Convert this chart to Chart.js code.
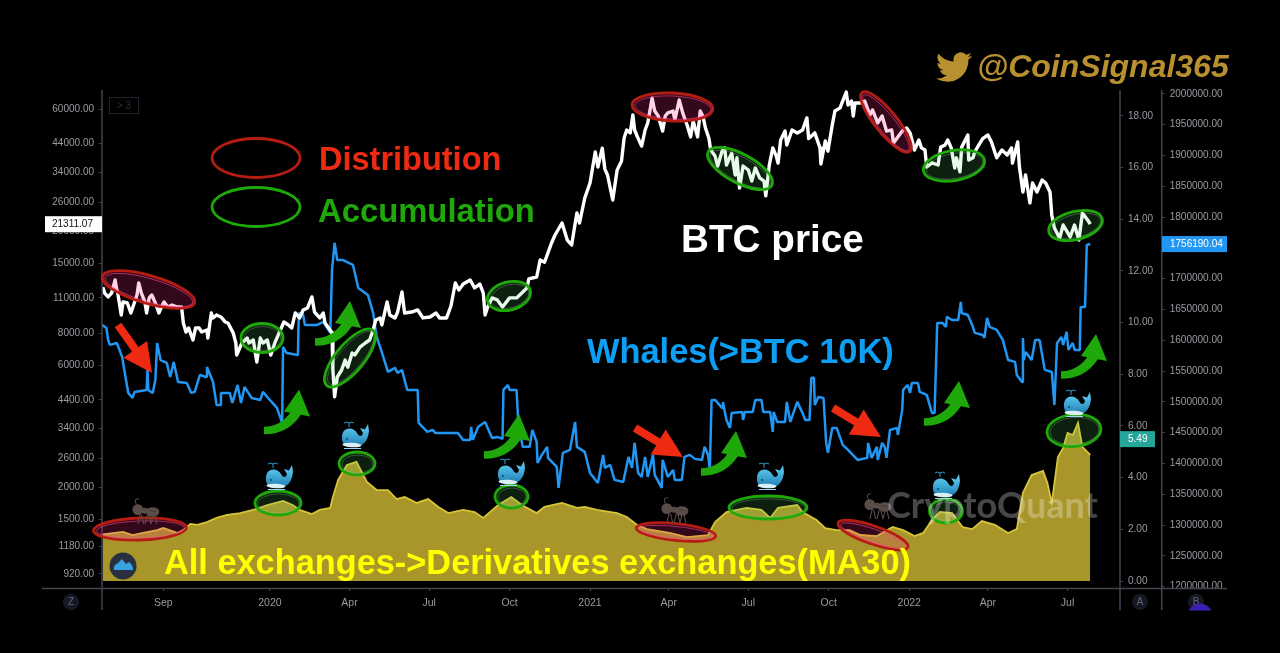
<!DOCTYPE html>
<html>
<head>
<meta charset="utf-8">
<style>
  html, body { margin: 0; padding: 0; background: #000; overflow: hidden; }
  canvas { display: block; }
</style>
<script src="https://cdn.jsdelivr.net/npm/chart.js@4/dist/chart.umd.min.js"></script>
</head>
<body>
<canvas id="whaleChart" width="1280" height="653"></canvas>
<script>
// x values are days counted from 2020-01-01
const tickDays = [-122, 0, 91, 182, 274, 366, 456, 547, 639, 731, 821, 912];
const tickLabels = ['Sep', '2020', 'Apr', 'Jul', 'Oct', '2021', 'Apr', 'Jul', 'Oct', '2022', 'Apr', 'Jul'];

const priceTicks = [920, 1180, 1500, 2000, 2600, 3400, 4400, 6000, 8000, 11000, 15000, 20000, 26000, 34000, 44000, 60000];

const btcDays = [-191,-189,-185,-181,-177,-175,-174,-170,-168,-163,-159,-157,-152,-150,-147,-143,-141,-138,-135,-131,-127,-123,-121,-117,-112,-106,-101,-99,-96,-93,-88,-85,-81,-78,-72,-71,-67,-65,-61,-56,-51,-48,-42,-39,-38,-32,-26,-24,-19,-15,-11,-8,-3,1,6,11,16,21,25,29,34,38,43,48,51,57,61,63,71,72,74,77,82,86,89,94,97,103,109,114,118,121,126,128,134,137,143,146,151,154,162,169,175,183,190,194,202,207,212,216,221,229,234,240,244,246,249,254,260,266,274,282,288,294,296,305,309,314,322,326,334,340,345,351,354,360,366,372,375,380,383,386,392,397,402,405,408,412,415,417,420,425,429,432,437,440,444,449,452,455,461,463,468,472,477,481,484,489,492,495,498,502,504,509,512,517,520,522,528,532,534,537,541,547,551,555,560,565,567,571,575,579,581,584,589,591,597,603,609,614,616,623,629,630,635,638,643,646,652,654,659,661,665,667,669,675,680,686,689,695,700,705,711,713,723,728,732,737,742,745,749,751,757,764,767,772,775,779,783,785,789,791,798,799,804,806,815,821,825,831,837,843,848,849,855,857,861,864,869,872,877,883,887,892,894,897,903,907,915,920,925,929,935,938];
const btcPrice = [12110,11480,11090,11480,12910,11800,11480,9430,10600,10500,9600,10040,11280,12570,11480,10600,9600,10990,11280,10500,9600,10310,10600,10130,10310,10130,10130,8770,8090,8390,7530,8390,8390,8090,8240,7670,9600,9180,9430,9260,8850,8770,8030,7330,6580,7330,7670,7330,7530,6180,7670,7330,7530,6580,7390,8090,8850,8620,8390,9600,9180,9860,10040,11090,9680,9180,9600,8770,8030,5750,4520,5400,5750,6290,5900,6700,6580,7060,7330,7530,8240,9010,9180,8620,10600,9430,9180,9680,11590,9600,9680,9860,9180,9260,9600,9180,9180,10220,12570,11800,12450,12910,12030,12450,11480,9430,10130,10990,10790,10130,10990,10990,11480,12030,13030,13260,15450,15140,18000,19340,21540,18490,17680,23570,21540,26970,30860,40780,35620,42210,34970,33160,26490,34680,37560,46200,49680,48400,56860,49680,46900,43000,49680,52900,66100,58900,56350,49200,56350,57950,58900,54350,65050,57950,51960,46700,53800,46700,58900,56350,50600,46000,41510,39300,35950,41100,42300,36280,40300,33160,38700,29500,35950,34680,31400,35300,32300,31400,27500,36280,42300,39300,36900,45410,49200,43410,49680,48400,49680,55400,46000,48400,42300,36600,45000,41100,51960,58900,60600,63300,69900,62200,64500,56350,63300,63300,64500,56860,59460,53000,56350,49200,49680,44200,49200,50600,48400,41510,45410,42300,41510,35620,37000,36280,42600,43410,45410,42300,35300,38700,34100,42600,47500,37940,38700,40900,46000,47500,44600,38700,41510,39690,42300,36900,44600,35620,28450,33160,25800,30860,28450,31700,30860,28450,23150,20600,18800,21160,19000,21160,18490,23570,22130,21311];

const whaleDays = [-192,-187,-185,-183,-175,-169,-162,-157,-155,-141,-140,-139,-134,-131,-129,-125,-118,-114,-110,-105,-95,-90,-86,-80,-73,-72,-65,-61,-57,-56,-46,-43,-37,-33,-29,-21,-11,-8,-2,8,14,15,19,32,33,38,40,54,61,69,71,74,77,83,95,101,112,118,122,126,135,143,146,151,157,169,170,180,186,189,215,221,229,230,232,238,246,254,260,266,267,272,274,282,284,289,297,300,305,306,311,317,318,328,330,335,343,349,351,360,366,375,381,383,389,394,404,410,414,417,421,425,429,432,438,440,448,449,455,461,463,471,474,480,486,494,497,501,503,505,509,517,518,522,526,528,540,541,543,552,555,562,564,572,575,576,580,589,591,595,603,609,612,617,619,622,623,627,633,636,638,643,648,655,661,672,683,684,688,694,695,700,703,705,709,717,718,723,724,729,732,734,741,743,751,752,757,760,763,769,773,774,780,787,790,791,798,803,806,815,817,820,823,831,838,844,852,854,860,861,862,864,871,875,880,886,894,897,900,905,907,911,913,918,920,926,927,932,934,938];
const whaleHoldings = [1625000,1620000,1600500,1592500,1595700,1573000,1514600,1506400,1516000,1519400,1552000,1519400,1514500,1535700,1595700,1568000,1563300,1540500,1564900,1532400,1530800,1514600,1516200,1543800,1540500,1556800,1532400,1495100,1495100,1514600,1514600,1498300,1527500,1498300,1524300,1506400,1503200,1516200,1506400,1490200,1465900,1589200,1579500,1576200,1644400,1641100,1624900,1624900,1629800,1612000,1714200,1758000,1730400,1730400,1722300,1685000,1673600,1644400,1605400,1589200,1548600,1555100,1547000,1551900,1519400,1519400,1465900,1451300,1454500,1449600,1449600,1438300,1438300,1459400,1438300,1459400,1467500,1441500,1443100,1439900,1519400,1527500,1519400,1519400,1465900,1427000,1427000,1454500,1435000,1400900,1414000,1427000,1409100,1394500,1360400,1417200,1422000,1467500,1427000,1418800,1384700,1368500,1414000,1392800,1397700,1373400,1370100,1410700,1392800,1433400,1384700,1378200,1410700,1378200,1414000,1381500,1360400,1405800,1378200,1389600,1373400,1373400,1410700,1414000,1407500,1405800,1427000,1414000,1389600,1503200,1503200,1490200,1500000,1470700,1457800,1482100,1483700,1470700,1483700,1483700,1503200,1503200,1483700,1483700,1451300,1483700,1467500,1467500,1500000,1467500,1500000,1482100,1470700,1470700,1539000,1539000,1495100,1508100,1506400,1433400,1417200,1457800,1457800,1430200,1422000,1405800,1409100,1433400,1409100,1427000,1405800,1433400,1427000,1409100,1454500,1457800,1446400,1487000,1519400,1527500,1514600,1530800,1530800,1516200,1511300,1506400,1482100,1482100,1628200,1628200,1621700,1637900,1633000,1633000,1662300,1644400,1641100,1624900,1612000,1608700,1603800,1636300,1621700,1616800,1600600,1568000,1564900,1543800,1532400,1603800,1568000,1581100,1568000,1600600,1600600,1552000,1548600,1495100,1595700,1605400,1592500,1613600,1584400,1595700,1584400,1584400,1654100,1654100,1754800,1756190];

const flowDays = [-191,-177,-168,-157,-145,-129,-122,-106,-99,-91,-83,-72,-61,-49,-34,-15,-3,15,26,34,48,57,69,72,78,88,99,105,111,122,135,145,154,168,181,194,204,221,234,244,261,276,288,305,314,334,351,360,374,397,408,420,431,457,477,501,509,522,545,562,572,581,603,609,625,635,648,663,675,694,712,724,737,747,757,766,780,792,803,814,829,844,854,861,871,884,889,894,901,907,912,918,924,929,938];
const flowMA30 = [1.80,1.86,1.90,1.78,1.86,1.97,2.05,1.86,1.97,2.21,2.17,2.28,2.44,2.56,2.63,2.79,2.94,3.10,2.94,2.75,2.59,2.75,2.83,3.25,3.91,4.49,4.61,4.22,3.83,3.52,3.52,3.17,3.25,3.02,3.17,2.83,2.63,2.75,2.67,2.44,2.94,3.25,2.94,2.63,2.87,3.02,2.83,2.87,2.75,2.63,2.48,2.17,2.01,1.86,1.70,1.78,2.28,2.67,2.83,2.75,2.44,2.83,2.94,2.67,2.36,2.05,1.97,1.97,1.78,1.74,2.09,1.97,1.74,1.86,2.36,2.67,2.63,2.09,2.01,2.32,2.17,1.86,2.01,3.41,4.10,4.26,3.79,3.02,4.80,5.15,5.73,5.65,6.12,5.19,4.88];

// last-value tags on the three axes
const lastPrice = 21311.07;
const lastWhales = 1756190.04;
const lastFlow = 5.49;

const sans = '"Liberation Sans", Arial, sans-serif';
const axisGrey = '#43444e';
const tickGrey = '#9a9ba2';
const redInk = '#ee2b12';
const greenInk = '#1fa80a';

// annotations drawn over the chart: [cx, cy, rx, ry, angle in degrees]
const redRings = [[148.5,289.5,48,14,16],[672.5,107,40.5,14,3],[886,122,38,11,51],[140,529,46.5,11,-2],[676,532,40,8.5,6],[873,535,37,9,19]];
const greenRings = [[262,338,21,14.5,0],[350,358,36,14,-50],[509,296,22,14,-15],[740,168.5,36,14.5,28],[954,165.5,31,15,-10],[1075.5,225.5,27.5,14,-14],[278,503,23,12,0],[357,463.5,18,11.5,0],[511.5,496.5,16.5,11.5,0],[768,507.5,39,11.5,0],[946,511,16.5,12,0],[1074,430.5,27,16,-5]];
const redArrows = [[118,325,152,373],[635,428,683,457],[833,408,881,437]];
const greenArrows = [[264,430.5],[315,342],[484,455],[701,472],[924,422],[1061,375]];
const whaleSpots = [[279,476],[355,435],[511,472],[770,476],[946,485],[1077,403]];
const antSpots = [[145,512],[674,511],[877,507]];

function ring(ctx, r, stroke, tint, inner) {
  const [cx, cy, rx, ry, ang] = r;
  ctx.save();
  ctx.translate(cx, cy);
  ctx.rotate(ang * Math.PI / 180);
  ctx.beginPath();
  ctx.ellipse(0, 0, rx, ry, 0, 0, Math.PI * 2);
  ctx.fillStyle = tint;
  ctx.fill();
  ctx.lineWidth = 2.8;
  ctx.strokeStyle = stroke;
  ctx.stroke();
  ctx.beginPath();
  ctx.ellipse(0.5, 0.5, rx - 2.5, ry - 2.5, 0, 0, Math.PI * 2);
  ctx.lineWidth = 0.7;
  ctx.strokeStyle = inner;
  ctx.stroke();
  ctx.restore();
}

function straightArrow(ctx, a) {
  const [x0, y0, x1, y1] = a;
  const ang = Math.atan2(y1 - y0, x1 - x0);
  const len = Math.hypot(x1 - x0, y1 - y0);
  ctx.save();
  ctx.translate(x0, y0);
  ctx.rotate(ang);
  ctx.fillStyle = redInk;
  ctx.fillRect(0, -4, len - 22, 8);
  ctx.beginPath();
  ctx.moveTo(len, 0);
  ctx.lineTo(len - 29, -14.5);
  ctx.lineTo(len - 29, 14.5);
  ctx.closePath();
  ctx.fill();
  ctx.restore();
}

function curvedArrow(ctx, a) {
  ctx.save();
  ctx.translate(a[0], a[1]);
  ctx.fillStyle = greenInk;
  ctx.beginPath();
  ctx.moveTo(0, 3.7);
  ctx.quadraticCurveTo(24, 4, 37, -16);
  ctx.lineTo(27, -19);
  ctx.quadraticCurveTo(17, -4, 0, -3.7);
  ctx.closePath();
  ctx.fill();
  ctx.beginPath();
  ctx.moveTo(35, -41);
  ctx.lineTo(20, -19);
  ctx.lineTo(46, -14);
  ctx.closePath();
  ctx.fill();
  ctx.restore();
}

function whale(ctx, p) {
  ctx.save();
  ctx.translate(p[0], p[1]);
  const g = ctx.createLinearGradient(0, -7, 0, 13);
  g.addColorStop(0, '#57c6ec');
  g.addColorStop(1, '#1a76ad');
  ctx.fillStyle = g;
  ctx.beginPath();
  ctx.moveTo(-13, 2);
  ctx.bezierCurveTo(-13, -8, -2, -9, 2, -2);
  ctx.bezierCurveTo(4, 2, 7, 2, 8, -2);
  ctx.lineTo(5, -7);
  ctx.lineTo(10, -5.5);
  ctx.lineTo(13, -11);
  ctx.lineTo(14, -4);
  ctx.bezierCurveTo(13, 6, 8, 12, -1, 12);
  ctx.bezierCurveTo(-9, 12, -13.5, 9, -13, 2);
  ctx.fill();
  ctx.fillStyle = '#d9eef5';
  ctx.beginPath();
  ctx.ellipse(-3, 10, 9.5, 2.2, 0.05, 0, Math.PI * 2);
  ctx.fill();
  ctx.fillStyle = '#0c3d5c';
  ctx.beginPath();
  ctx.arc(-8, 4, 0.9, 0, Math.PI * 2);
  ctx.fill();
  ctx.strokeStyle = '#9fd8ee';
  ctx.lineWidth = 1;
  ctx.beginPath();
  ctx.moveTo(-11, 13.5);
  ctx.lineTo(6, 13.5);
  ctx.stroke();
  ctx.strokeStyle = '#2a9fd0';
  ctx.beginPath();
  ctx.moveTo(-6, -8);
  ctx.lineTo(-6, -12);
  ctx.moveTo(-6, -12);
  ctx.quadraticCurveTo(-9, -14, -11, -12);
  ctx.moveTo(-6, -12);
  ctx.quadraticCurveTo(-3, -14, -1, -12);
  ctx.stroke();
  ctx.restore();
}

function ant(ctx, p) {
  ctx.save();
  ctx.translate(p[0], p[1]);
  ctx.scale(1.2, 1.2);
  ctx.fillStyle = '#5a4d48';
  ctx.strokeStyle = '#5a4d48';
  ctx.lineWidth = 0.9;
  ctx.beginPath();
  ctx.ellipse(-6, -2, 4.5, 4.5, 0, 0, Math.PI * 2);
  ctx.ellipse(0, -1, 3, 2.5, 0, 0, Math.PI * 2);
  ctx.ellipse(6.5, 0, 5.5, 4, 0, 0, Math.PI * 2);
  ctx.fill();
  ctx.beginPath();
  ctx.moveTo(-7, -6);
  ctx.quadraticCurveTo(-10, -11, -5, -11);
  for (const lx of [-6, 0, 5]) {
    ctx.moveTo(lx + 2, 2);
    ctx.lineTo(lx, 10);
    ctx.moveTo(lx + 3, 2);
    ctx.lineTo(lx + 5, 10);
  }
  ctx.stroke();
  ctx.restore();
}

function badge(ctx, x, y, letter) {
  ctx.fillStyle = '#161923';
  ctx.beginPath();
  ctx.arc(x, y, 8, 0, Math.PI * 2);
  ctx.fill();
  ctx.fillStyle = '#5d6580';
  ctx.font = '10px ' + sans;
  ctx.textAlign = 'center';
  ctx.textBaseline = 'middle';
  ctx.fillText(letter, x, y + 0.5);
}

function priceTag(ctx, x, y, w, fill, color, label, tx) {
  ctx.fillStyle = fill;
  ctx.fillRect(x, y - 8, w, 16);
  ctx.fillStyle = color;
  ctx.font = '10px ' + sans;
  ctx.textAlign = 'left';
  ctx.textBaseline = 'middle';
  ctx.fillText(label, tx, y + 0.5);
}

const twitterBird = new Path2D('M23.953 4.57a10 10 0 01-2.825.775 4.958 4.958 0 002.163-2.723c-.951.555-2.005.959-3.127 1.184a4.92 4.92 0 00-8.384 4.482C7.69 8.095 4.067 6.13 1.64 3.162a4.822 4.822 0 00-.666 2.475c0 1.71.87 3.213 2.188 4.096a4.904 4.904 0 01-2.228-.616v.06a4.923 4.923 0 003.946 4.827 4.996 4.996 0 01-2.212.085 4.936 4.936 0 004.604 3.417 9.867 9.867 0 01-6.102 2.105c-.39 0-.779-.023-1.17-.067a13.995 13.995 0 007.557 2.209c9.053 0 13.998-7.496 13.998-13.985 0-.21 0-.42-.015-.63A9.935 9.935 0 0024 4.59z');

const annotations = {
  id: 'annotations',
  afterDraw(chart) {
    const ctx = chart.ctx;
    const sc = chart.scales;
    ctx.save();

    // hide the half of the lowest whale label that sits under the time axis
    ctx.fillStyle = '#000';
    ctx.fillRect(1164, 590, 66, 10);

    // axis rules run past the plot area
    ctx.strokeStyle = axisGrey;
    ctx.lineWidth = 1.5;
    ctx.beginPath();
    ctx.moveTo(42, 588.5); ctx.lineTo(1227, 588.5);
    for (const x of [102, 1120, 1161.7]) {
      ctx.moveTo(x, 90); ctx.lineTo(x, 610);
    }
    ctx.stroke();

    // ring tints lie over the lines
    redRings.forEach(r => ring(ctx, r, '#b51d12', 'rgba(255,40,130,0.2)', 'rgba(255,70,150,0.8)'));
    greenRings.forEach(r => ring(ctx, r, '#1fa80a', 'rgba(90,220,100,0.14)', 'rgba(120,200,120,0.5)'));
    ring(ctx, [256, 158, 44, 19.5, 0], '#b51d12', 'rgba(0,0,0,0)', 'rgba(0,0,0,0)');
    ring(ctx, [256, 207, 44, 19.5, 0], '#1fa80a', 'rgba(0,0,0,0)', 'rgba(0,0,0,0)');

    redArrows.forEach(a => straightArrow(ctx, a));
    greenArrows.forEach(a => curvedArrow(ctx, a));
    antSpots.forEach(p => ant(ctx, p));
    whaleSpots.forEach(p => whale(ctx, p));

    // captions
    ctx.textAlign = 'left';
    ctx.textBaseline = 'alphabetic';
    ctx.font = 'bold 32.5px ' + sans;
    ctx.fillStyle = redInk;
    ctx.fillText('Distribution', 319, 170);
    ctx.font = 'bold 32.8px ' + sans;
    ctx.fillStyle = greenInk;
    ctx.fillText('Accumulation', 318, 222);
    ctx.font = 'bold 38.7px ' + sans;
    ctx.fillStyle = '#fff';
    ctx.fillText('BTC price', 681, 252);
    ctx.font = 'bold 34.4px ' + sans;
    ctx.fillStyle = '#0d9ef5';
    ctx.fillText('Whales(>BTC 10K)', 587, 363);
    ctx.font = 'bold 34.35px ' + sans;
    ctx.fillStyle = '#ffff00';
    ctx.fillText('All exchanges->Derivatives exchanges(MA30)', 164, 574);
    ctx.font = 'italic bold 32px ' + sans;
    ctx.fillStyle = '#b8902f';
    ctx.fillText('@CoinSignal365', 977, 77);

    ctx.save();
    ctx.translate(936, 49);
    ctx.scale(1.5, 1.5);
    ctx.fill(twitterBird);
    ctx.restore();

    // watermark and platform furniture
    ctx.font = 'bold 36px Lato, ' + sans;
    ctx.fillStyle = 'rgba(255,255,255,0.28)';
    ctx.fillText('CryptoQuant', 887, 518);

    ctx.fillStyle = '#2a3040';
    ctx.beginPath();
    ctx.arc(123, 566, 13.5, 0, Math.PI * 2);
    ctx.fill();
    ctx.fillStyle = '#36a3e0';
    ctx.beginPath();
    ctx.moveTo(114, 570);
    ctx.quadraticCurveTo(113, 565, 118, 563);
    ctx.lineTo(122, 559);
    ctx.lineTo(126, 564);
    ctx.lineTo(129, 562);
    ctx.quadraticCurveTo(133, 565, 133, 570);
    ctx.closePath();
    ctx.fill();

    ctx.strokeStyle = '#20232d';
    ctx.lineWidth = 1;
    ctx.strokeRect(109.5, 97.5, 29, 16);
    ctx.fillStyle = '#2c2f39';
    ctx.font = '10px ' + sans;
    ctx.textAlign = 'center';
    ctx.textBaseline = 'middle';
    ctx.fillText('> 3', 124, 106);

    badge(ctx, 71, 602, 'Z');
    badge(ctx, 1140, 602, 'A');
    badge(ctx, 1196, 602, 'B');
    ctx.save();
    ctx.beginPath();
    ctx.rect(1180, 600, 40, 10.5);
    ctx.clip();
    ctx.fillStyle = '#3a1fb0';
    ctx.beginPath();
    ctx.arc(1200, 616, 12.5, 0, Math.PI * 2);
    ctx.fill();
    ctx.restore();

    // last-value tags follow the axes
    priceTag(ctx, 45, sc.y.getPixelForValue(lastPrice), 57, '#fff', '#111', lastPrice.toFixed(2), 52);
    priceTag(ctx, 1162, sc.y2.getPixelForValue(lastWhales), 65, '#2196f3', '#fff', lastWhales.toFixed(2), 1170);
    priceTag(ctx, 1120, sc.y1.getPixelForValue(lastFlow), 35, '#26a69a', '#fff', lastFlow.toFixed(2), 1128);

    ctx.restore();
  }
};

const toPoints = (xs, ys) => xs.map((x, i) => ({ x, y: ys[i] }));

function axisOpts(extra) {
  return Object.assign({
    border: { display: false },
    grid: { drawOnChartArea: false, drawTicks: true, tickLength: 3, color: axisGrey }
  }, extra);
}

new Chart(document.getElementById('whaleChart'), {
  type: 'line',
  data: {
    datasets: [
      {
        label: 'All exchanges->Derivatives exchanges(MA30)',
        data: toPoints(flowDays, flowMA30),
        yAxisID: 'y1',
        borderColor: '#d6c43a',
        borderWidth: 1.8,
        backgroundColor: '#a8962a',
        fill: 'origin',
        pointRadius: 0,
        order: 3
      },
      {
        label: 'Whales(>BTC 10K)',
        data: toPoints(whaleDays, whaleHoldings),
        yAxisID: 'y2',
        borderColor: '#2196f3',
        borderWidth: 2.5,
        borderJoinStyle: 'bevel',
        pointRadius: 0,
        order: 2
      },
      {
        label: 'BTC price',
        data: toPoints(btcDays, btcPrice),
        yAxisID: 'y',
        borderColor: '#ffffff',
        borderWidth: 3.4,
        borderJoinStyle: 'round',
        pointRadius: 0,
        order: 1
      }
    ]
  },
  options: {
    responsive: false,
    animation: false,
    layout: { autoPadding: false, padding: { top: 90 } },
    plugins: { legend: { display: false }, tooltip: { enabled: false } },
    scales: {
      x: axisOpts({
        type: 'linear',
        min: -192,
        max: 972,
        afterBuildTicks: s => { s.ticks = tickDays.map(value => ({ value })); },
        afterFit: s => { s.height = 65; },
        ticks: {
          autoSkip: false,
          maxRotation: 0,
          padding: 6,
          color: tickGrey,
          font: { family: sans, size: 10.5 },
          callback: v => tickLabels[tickDays.indexOf(v)]
        }
      }),
      y: axisOpts({
        type: 'logarithmic',
        position: 'left',
        min: 811,
        max: 71170,
        afterBuildTicks: s => { s.ticks = priceTicks.map(value => ({ value })); },
        afterFit: s => { s.width = 102; },
        ticks: {
          autoSkip: false,
          padding: 5,
          color: tickGrey,
          font: { family: sans, size: 10 },
          callback: v => v.toFixed(2)
        }
      }),
      y1: axisOpts({
        type: 'linear',
        position: 'right',
        weight: 0,
        min: -0.27,
        max: 19,
        afterBuildTicks: s => { s.ticks = [0, 2, 4, 6, 8, 10, 12, 14, 16, 18].map(value => ({ value })); },
        afterFit: s => { s.width = 41.7; },
        ticks: {
          autoSkip: false,
          padding: 5,
          color: tickGrey,
          font: { family: sans, size: 10 },
          callback: v => v.toFixed(2)
        }
      }),
      y2: axisOpts({
        type: 'linear',
        position: 'right',
        weight: 1,
        min: 1197900,
        max: 2006300,
        afterBuildTicks: s => {
          const t = [];
          for (let v = 1200000; v <= 2000000; v += 50000) t.push({ value: v });
          s.ticks = t;
        },
        afterFit: s => { s.width = 118.3; },
        ticks: {
          autoSkip: false,
          padding: 5,
          color: tickGrey,
          font: { family: sans, size: 10 },
          callback: v => v.toFixed(2)
        }
      })
    }
  },
  plugins: [annotations]
});
</script>
</body>
</html>
